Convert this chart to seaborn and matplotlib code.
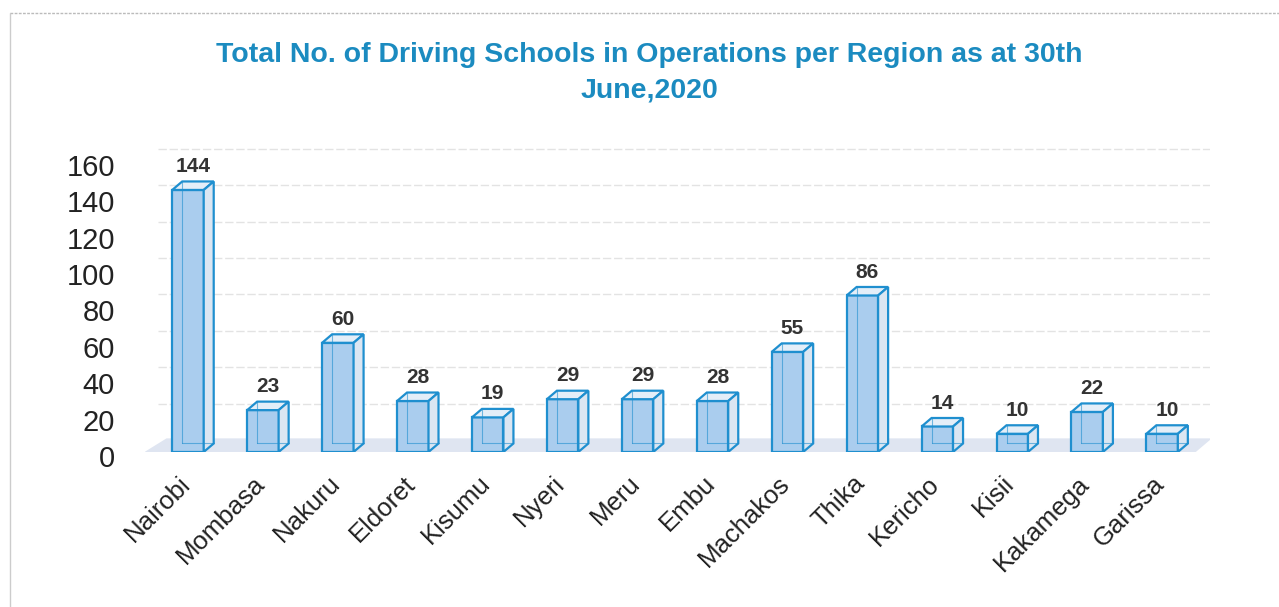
import matplotlib
matplotlib.use("Agg")
import matplotlib.pyplot as plt
import matplotlib.transforms as mtransforms
import seaborn as sns
import pandas as pd
import numpy as np
from matplotlib.patches import Polygon
from matplotlib.transforms import ScaledTranslation

regions = ["Nairobi", "Mombasa", "Nakuru", "Eldoret", "Kisumu", "Nyeri", "Meru",
           "Embu", "Machakos", "Thika", "Kericho", "Kisii", "Kakamega", "Garissa"]
schools = [144, 23, 60, 28, 19, 29, 29, 28, 55, 86, 14, 10, 22, 10]
yticks = [0, 20, 40, 60, 80, 100, 120, 140, 160]
title = "Total No. of Driving Schools in Operations per Region as at 30th\nJune,2020"

sns.set_theme(style="white")
plt.rcParams["font.family"] = ["Liberation Sans", "DejaVu Sans"]

df = pd.DataFrame({"region": regions, "schools": schools})

fig = plt.figure(figsize=(12.79, 6.07), dpi=100)
ax = fig.add_axes([0.1134, 0.2554, 0.8327, 0.5096])

FRONT = "#aacdee"
EDGE = "#1f8fcf"
sns.barplot(data=df, x="region", y="schools", color=FRONT, width=0.42,
            saturation=1, edgecolor=EDGE, linewidth=1.6, ax=ax, zorder=3)
ax.set_xlim(-0.573, 13.64)
ax.set_ylim(0, 170)

fig.canvas.draw()
inv = ax.transData.inverted()
p0 = inv.transform(ax.transData.transform((0, 0)))
p1 = inv.transform(ax.transData.transform((0, 0)) + np.array([10, 8.5]))
ddx, ddy = p1 - p0

bars = list(ax.patches)

fl = Polygon([(-0.58, 0), (13.45, 0), (13.45 + ddx * 1.6, ddy * 1.6),
              (-0.58 + ddx * 2.2, ddy * 1.6)], closed=True,
             facecolor="#dfe5f1", edgecolor="none", zorder=1)
ax.add_patch(fl)

for bar in bars:
    x0 = bar.get_x(); w = bar.get_width(); h = bar.get_height()
    top = Polygon([(x0, h), (x0 + w, h), (x0 + w + ddx, h + ddy), (x0 + ddx, h + ddy)],
                  closed=True, facecolor="#e4eef8", edgecolor=EDGE, linewidth=1.6, zorder=4)
    side = Polygon([(x0 + w, 0), (x0 + w + ddx, ddy), (x0 + w + ddx, h + ddy), (x0 + w, h)],
                   closed=True, facecolor="#dbe6f2", edgecolor=EDGE, linewidth=1.6, zorder=4)
    ax.add_patch(top); ax.add_patch(side)
    ax.plot([x0 + ddx, x0 + ddx], [ddy, h + ddy], color=EDGE, lw=0.8, alpha=0.6, zorder=4)
    ax.plot([x0 + ddx, x0 + w + ddx], [ddy, ddy], color=EDGE, lw=0.8, alpha=0.6, zorder=4)
    ax.text(x0 + w / 2 + ddx / 2, h + ddy + 3, f"{int(h)}", ha="center", va="bottom",
            fontsize=15, fontweight="bold", color="#333333", zorder=5)

off = ScaledTranslation(0, 12 / 100, fig.dpi_scale_trans)
for t in yticks[1:]:
    ax.plot([-0.4, 13.64], [t, t], color="#e3e3e3", lw=1.0, ls=(0, (6, 2)),
            transform=ax.transData + off, zorder=0)

# y tick labels, drawn slightly below their tick values as in the original
ax.set_yticks(yticks)
ax.set_yticklabels([])
ax.tick_params(axis="y", length=0)
ylab_tr = mtransforms.blended_transform_factory(ax.transAxes, ax.transData) + \
    ScaledTranslation(-30 / 100, -7 / 100, fig.dpi_scale_trans)
for t in yticks:
    ax.text(0, t, str(t), transform=ylab_tr, ha="right", va="center",
            fontsize=21, color="#222222")

ax.tick_params(axis="x", length=0, pad=14)
ax.set_xticks(range(len(regions)))
ax.set_xticklabels(regions, rotation=45, ha="right", rotation_mode="anchor",
                   fontsize=18.5, color="#222222")
for lab in ax.get_xticklabels():
    lab.set_transform(lab.get_transform() + ScaledTranslation(-10 / 100, 0, fig.dpi_scale_trans))
ax.set_xlabel(""); ax.set_ylabel("")
for s in ax.spines.values():
    s.set_visible(False)
ax.set_facecolor("none")

fig.text(0.508, 0.880, title, ha="center", va="center", fontsize=20.5,
         fontweight="bold", color="#1b8bc0", linespacing=1.45)

fig.add_artist(plt.Line2D([0.008, 1.0], [0.979, 0.979], color="#bbbbbb", lw=1, ls=(0, (2, 1))))
fig.add_artist(plt.Line2D([0.008, 0.008], [0.0, 0.979], color="#cccccc", lw=1))

fig.savefig("out.png", dpi=100)
